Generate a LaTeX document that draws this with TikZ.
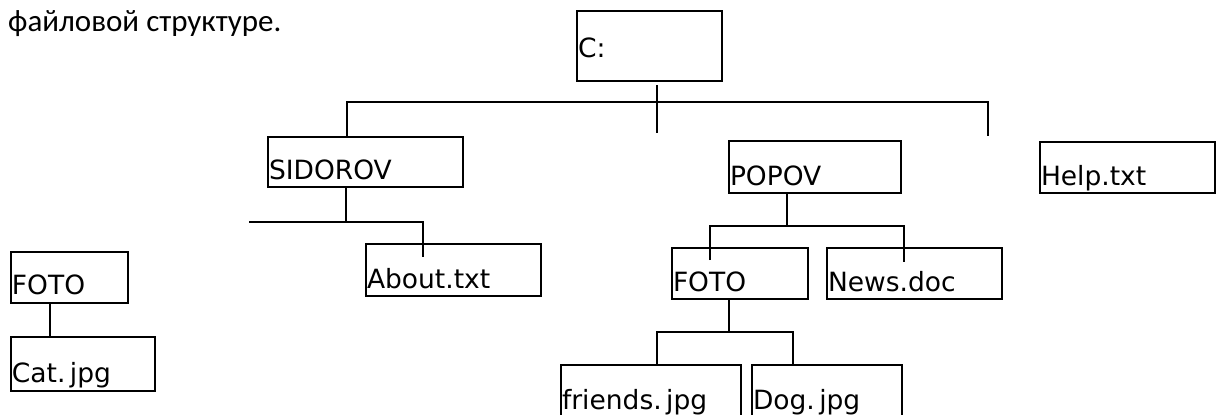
\documentclass[tikz,border=0pt]{standalone}
\usepackage{fontspec}
\usepackage{tikz}
\newfontfamily\boxfont{DejaVu Sans}
\newfontfamily\headfont{Carlito}

\begin{document}
\begin{tikzpicture}[x=1pt, y=-1pt,
  box/.style={draw, line width=1.3pt, anchor=north west, outer sep=0pt,
    inner xsep=1pt, inner ysep=0pt, align=left, text depth=8pt,
    font=\boxfont\fontsize{26.5}{31}\selectfont},
  link/.style={line width=1.2pt}]
  \useasboundingbox (0,0) rectangle (1216,415);
  \clip (0,0) rectangle (1216,415);
  % Heading
  \node[anchor=base west, inner sep=0pt, font=\headfont\fontsize{31}{36}\selectfont] (head) at (8,31) {файловой структуре.};
  % Boxes
  \node[box, text width=143pt, text height=46pt, text depth=24pt] (root) at (577,11) {C:};
  \node[box, text width=193pt, text height=42pt] (sidorov) at (268,137) {SIDOROV};
  \node[box, text width=170pt, text height=44pt] (popov) at (729,141) {POPOV};
  \node[box, text width=173pt, text height=43pt] (help) at (1040,142) {Help.txt};
  \node[box, text width=173pt, text height=44pt] (about) at (366,244) {About.txt};
  \node[box, text width=115pt, text height=42pt, text depth=9pt] (fotoL) at (11,252) {FOTO};
  \node[box, text width=142pt, text height=45pt, text depth=9pt] (cat) at (11,337) {Cat.\,jpg};
  \node[box, text width=134pt, text height=43pt] (fotoM) at (672,248) {FOTO};
  \node[box, text width=173pt, text height=43pt] (news) at (827,248) {News.doc};
  \node[box, text width=178pt, text height=44pt] (friends) at (561,365) {friends.\,jpg};
  \node[box, text width=148pt, text height=44pt] (dog) at (752,365) {Dog.\,jpg};
  % Top level
  \coordinate (rootTop) at (657,85);
  \coordinate (rootEnd) at (657,133);
  \coordinate (barL) at (347,102);
  \coordinate (barR) at (988,102);
  \coordinate (barREnd) at (988,136);
  \draw[link] (rootTop) -- (rootEnd);
  \draw[link] (sidorov.north -| barL) -- (barL) -- (barR) -- (barREnd);
  % SIDOROV
  \coordinate (sidBar) at (346,222);
  \coordinate (sidBarL) at (249,222);
  \coordinate (sidBarR) at (423,222);
  \coordinate (aboutEnd) at (423,257);
  \draw[link] (sidorov.south -| sidBar) -- (sidBar);
  \draw[link] (sidBarL) -- (sidBarR) -- (aboutEnd);
  % FOTO -> Cat
  \coordinate (catX) at (50,0);
  \draw[link] (fotoL.south -| catX) -- (cat.north -| catX);
  % POPOV
  \coordinate (popBar) at (787,226);
  \coordinate (popBarL) at (710,226);
  \coordinate (popBarR) at (904,226);
  \coordinate (fotoMEnd) at (710,260);
  \coordinate (newsEnd) at (904,262);
  \draw[link] (popov.south -| popBar) -- (popBar);
  \draw[link] (fotoMEnd) -- (popBarL) -- (popBarR) -- (newsEnd);
  % FOTO in POPOV
  \coordinate (fotoBar) at (729,332);
  \coordinate (fotoBarL) at (657,332);
  \coordinate (fotoBarR) at (793,332);
  \draw[link] (fotoM.south -| fotoBar) -- (fotoBar);
  \draw[link] (friends.north -| fotoBarL) -- (fotoBarL) -- (fotoBarR) -- (dog.north -| fotoBarR);
\end{tikzpicture}
\end{document}
